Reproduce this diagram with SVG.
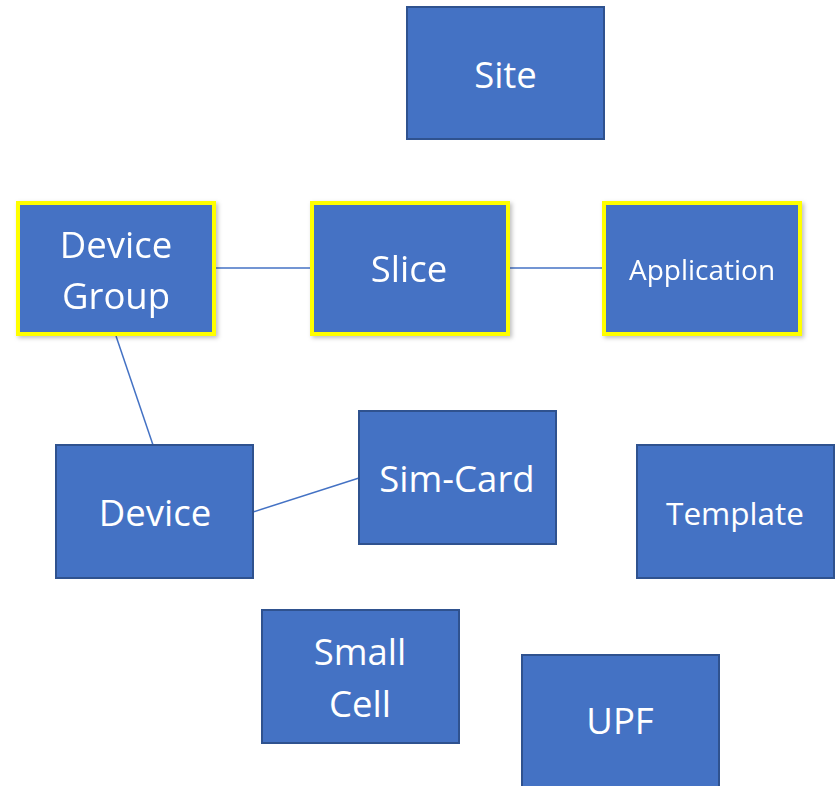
<svg xmlns="http://www.w3.org/2000/svg" width="839" height="786" viewBox="0 0 839 786">
<style>
.box{fill:#4472C4;stroke:#2F528F;stroke-width:2}
.sel{fill:#4472C4;stroke:#FFFF00;stroke-width:4}
.t{fill:#fff;font-family:"Open Sans",sans-serif;font-size:36.5px;text-anchor:middle;dominant-baseline:central}
.ts{font-size:28px}
.tm{font-size:31.5px}
.c{stroke:#4472C4;stroke-width:1.5;fill:none}
</style>
<defs>
<filter id="sh" x="-10%" y="-10%" width="125%" height="125%">
<feDropShadow dx="2" dy="2" stdDeviation="2" flood-color="#000" flood-opacity="0.25"/>
</filter>
</defs>
<g id="connectors">
<line class="c" x1="214" y1="268" x2="311" y2="268"/>
<line class="c" x1="508" y1="268" x2="603" y2="268"/>
<line class="c" x1="116" y1="336" x2="153" y2="445"/>
<line class="c" x1="253" y1="512" x2="359" y2="478"/>
</g>
<g id="site"><rect class="box" x="407" y="7" width="197" height="132"/><text class="t" x="505.5" y="74">Site</text></g>
<g id="devicegroup" filter="url(#sh)"><rect class="sel" x="18" y="203" width="196" height="131"/><text class="t" x="116" y="244">Device</text><text class="t" x="116" y="295">Group</text></g>
<g id="slice" filter="url(#sh)"><rect class="sel" x="312" y="203" width="196" height="131"/><text class="t" x="409" y="268">Slice</text></g>
<g id="application" filter="url(#sh)"><rect class="sel" x="604" y="203" width="196" height="131"/><text class="t ts" x="702" y="269">Application</text></g>
<g id="device"><rect class="box" x="56" y="445" width="197" height="133"/><text class="t" x="155" y="512">Device</text></g>
<g id="simcard"><rect class="box" x="359" y="411" width="197" height="133"/><text class="t" x="457" y="478">Sim-Card</text></g>
<g id="template"><rect class="box" x="637" y="445" width="197" height="133"/><text class="t tm" x="735" y="512">Template</text></g>
<g id="smallcell"><rect class="box" x="262" y="610" width="197" height="133"/><text class="t" x="360" y="651">Small</text><text class="t" x="360" y="703">Cell</text></g>
<g id="upf"><rect class="box" x="522" y="655" width="197" height="135"/><text class="t" x="620" y="720">UPF</text></g>
</svg>
